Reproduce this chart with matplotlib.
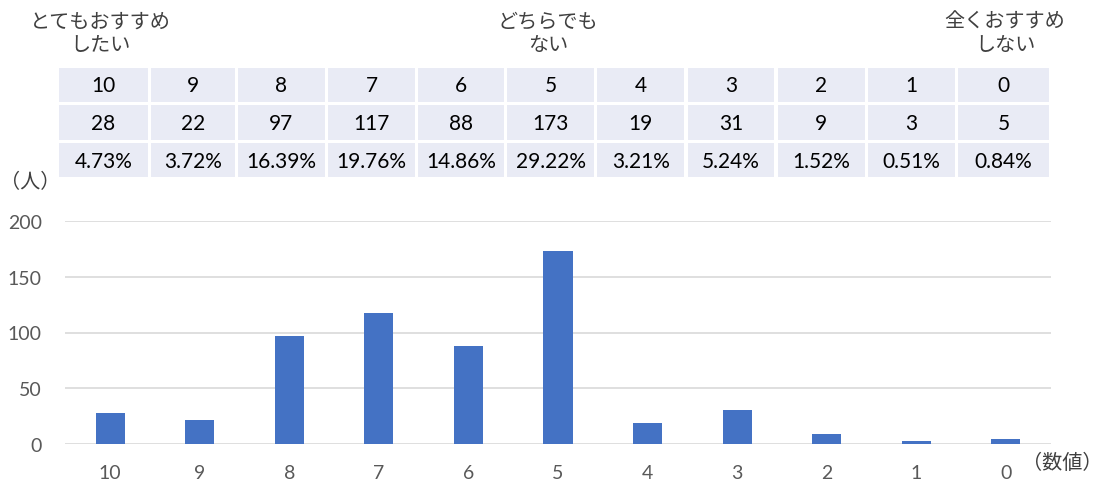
import matplotlib
matplotlib.use("Agg")
import matplotlib.pyplot as plt
from matplotlib.patches import Rectangle

# ---- data ----
scores = ['10', '9', '8', '7', '6', '5', '4', '3', '2', '1', '0']
counts = [28, 22, 97, 117, 88, 173, 19, 31, 9, 3, 5]
percents = ['4.73%', '3.72%', '16.39%', '19.76%', '14.86%', '29.22%',
            '3.21%', '5.24%', '1.52%', '0.51%', '0.84%']
yticks = [0, 50, 100, 150, 200]
header_labels = ['とてもおすすめ\nしたい', 'どちらでも\nない', '全くおすすめ\nしない']
y_unit = '（人）'
x_unit = '（数値）'

plt.rcParams['font.family'] = ['Lato', 'Noto Sans CJK JP', 'DejaVu Sans']
JP = ['Noto Sans CJK JP', 'DejaVu Sans']

W, H = 1103, 485
fig = plt.figure(figsize=(W / 100, H / 100), dpi=100)

# ---- bar chart ----
ax_left, ax_right, ax_top, ax_bottom = 65.3, 1050.7, 221.7, 445.3
ax = fig.add_axes([ax_left / W, 1 - ax_bottom / H,
                   (ax_right - ax_left) / W, (ax_bottom - ax_top) / H])
x = list(range(len(scores)))
ax.bar(x, counts, width=0.325, color='#4472C4', zorder=3)
ax.set_xlim(-0.5, len(scores) - 0.5)
ax.set_ylim(0, 200)
ax.set_yticks(yticks)
ax.set_xticks(x)
ax.set_xticklabels(scores)
ax.grid(axis='y', color='#D9D9D9', linewidth=1.2, zorder=0)
ax.set_axisbelow(True)
for s in ax.spines.values():
    s.set_visible(False)
ax.tick_params(axis='both', length=0, labelsize=14, labelcolor='#595959')
ax.tick_params(axis='y', pad=17)
ax.tick_params(axis='x', pad=14)

# ---- overlay (pixel coordinates) for table and annotations ----
ov = fig.add_axes([0, 0, 1, 1], zorder=5)
ov.set_xlim(0, W)
ov.set_ylim(H, 0)
ov.axis('off')
ov.patch.set_alpha(0)

col_starts = [59, 151, 238.3, 328, 418.3, 507.3, 597.3, 687.5, 777.5, 868.3, 958.3, 1052.3]
gap = 3.3
rows = [(69, 102.7), (106, 141), (144.3, 178.3)]
row_texts = [scores, [str(c) for c in counts], percents]
for (y0, y1), texts in zip(rows, row_texts):
    for i, t in enumerate(texts):
        x0 = col_starts[i]
        x1 = col_starts[i + 1] - gap
        ov.add_patch(Rectangle((x0, y0), x1 - x0, y1 - y0,
                               facecolor='#E9EBF5', edgecolor='none'))
        ov.text((x0 + x1) / 2, (y0 + y1) / 2 + 0.5, t, ha='center', va='center',
                fontsize=15, color='#000000')

header_x = [100, 548, 1005]
for hx, lab in zip(header_x, header_labels):
    ov.text(hx, 34, lab, ha='center', va='center', fontsize=14.5,
            color='#404040', family=JP, linespacing=1.15)

ov.text(30, 183, y_unit, ha='center', va='center', fontsize=14.5,
        color='#404040', family=JP)
ov.text(1062, 464, x_unit, ha='center', va='center', fontsize=14.5,
        color='#404040', family=JP)

fig.savefig('out.png', dpi=100)
